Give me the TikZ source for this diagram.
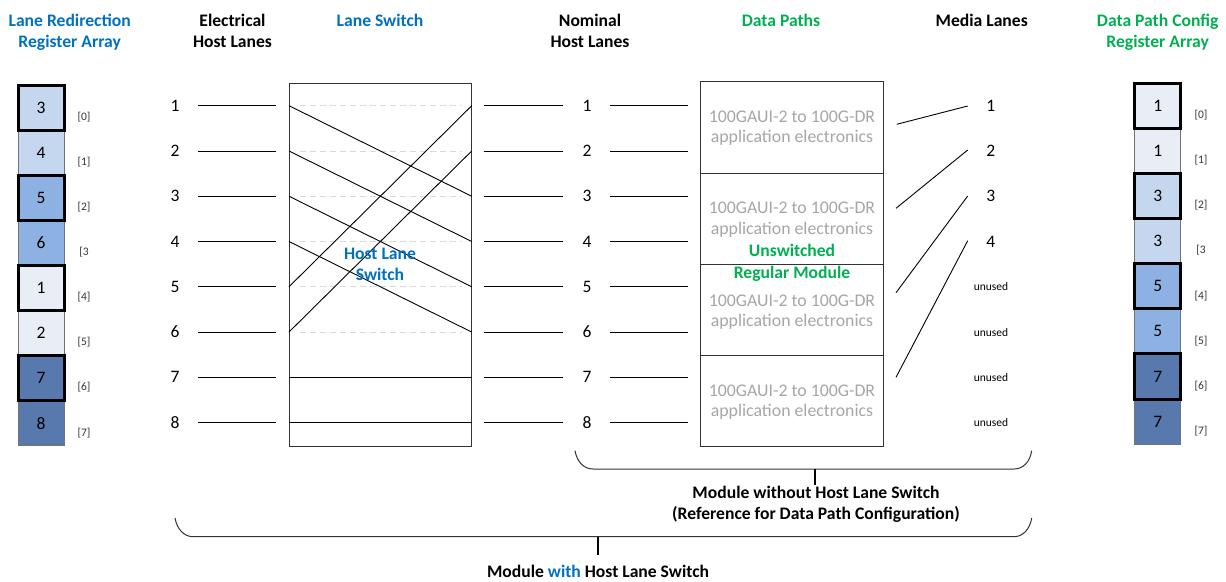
\documentclass[tikz,border=0pt]{standalone}
\usepackage{fontspec}
\setmainfont{Carlito}
\definecolor{vl}{HTML}{E9EEF6}
\definecolor{lb}{HTML}{C5D7EF}
\definecolor{mb}{HTML}{8DB1E2}
\definecolor{db}{HTML}{5779AD}
\definecolor{tblue}{HTML}{0070C0}
\definecolor{tgreen}{HTML}{00B050}
\definecolor{tgrey}{HTML}{A6A6A6}
\definecolor{dashgrey}{HTML}{D9D9D9}
\begin{document}
\begin{tikzpicture}[x=1pt,y=-1pt,
  hdr/.style={font=\fontsize{17.6}{21}\selectfont\bfseries, inner sep=0, anchor=base},
  num/.style={font=\fontsize{17.5}{20}\selectfont, inner sep=0},
  idx/.style={font=\fontsize{11.5}{13}\selectfont, text=black!80, inner sep=0},
  unusedlbl/.style={font=\fontsize{11.5}{13}\selectfont, inner sep=0},
  lane/.style={draw=black, line width=0.9pt},
  dashlane/.style={draw=dashgrey, line width=0.9pt, dash pattern=on 6pt off 4pt},
  box/.style={draw=black!80, line width=1pt, inner sep=0},
  cell/.style={draw=black!55, line width=0.8pt, minimum width=46pt, minimum height=45.1pt, inner sep=0, font=\fontsize{17.5}{20}\selectfont},
  tcell/.style={cell, draw=black, line width=3pt},
  dptxt/.style={font=\fontsize{17.8}{21}\selectfont, text=tgrey, inner sep=0, anchor=base},
  grn/.style={font=\fontsize{17.6}{21}\selectfont\bfseries, text=tgreen, inner sep=0, anchor=base},
  blu/.style={font=\fontsize{17.6}{21}\selectfont\bfseries, text=tblue, inner sep=0, anchor=base},
  brace/.style={draw=black!80, line width=1pt},
  tick/.style={draw=black, line width=1.6pt},
  btxt/.style={font=\fontsize{17.6}{21}\selectfont\bfseries, inner sep=0, anchor=base},
]
\useasboundingbox (0,0) rectangle (1226,581);

% ---------- headers ----------
\node[hdr, text=tblue] (hA1) at (69.7,26) {Lane Redirection};
\node[hdr, text=tblue] (hA2) at (69.7,47) {Register Array};
\node[hdr] (hB1) at (232.5,26) {Electrical};
\node[hdr] (hB2) at (232.5,47) {Host Lanes};
\node[hdr, text=tblue] (hC) at (380,26) {Lane Switch};
\node[hdr] (hD1) at (590,26) {Nominal};
\node[hdr] (hD2) at (590,47) {Host Lanes};
\node[hdr, text=tgreen] (hE) at (781,26) {Data Paths};
\node[hdr] (hF) at (981.7,26) {Media Lanes};
\node[hdr, text=tgreen] (hG1) at (1157.7,26) {Data Path Config};
\node[hdr, text=tgreen] (hG2) at (1157.7,47) {Register Array};

% ---------- left register array ----------
\foreach \v/\c [count=\i from 0] in {4/lb,6/mb,2/vl,8/db}{
  \pgfmathsetmacro{\cy}{85+45.1*(2*\i+1)+22.55}
  \node[cell, fill=\c] (L\i b) at (41,\cy) {\v};
}
\foreach \v/\c [count=\i from 0] in {3/lb,5/mb,1/vl,7/db}{
  \pgfmathsetmacro{\cy}{85+45.1*(2*\i)+22.55}
  \node[tcell, fill=\c] (L\i a) at (41,\cy) {\v};
}
\foreach \t [count=\i from 0] in {{[0]},{[1]},{[2]},{[3},{[4]},{[5]},{[6]},{[7]}}{
  \pgfmathsetmacro{\cy}{85+45.1*\i+32}
  \node[idx] (Li\i) at (84,\cy) {\t};
}

% ---------- right register array ----------
\foreach \v/\c [count=\i from 0] in {1/vl,3/lb,5/mb,7/db}{
  \pgfmathsetmacro{\cy}{83.3+45.1*(2*\i+1)+22.55}
  \node[cell, fill=\c] (R\i b) at (1157.7,\cy) {\v};
}
\foreach \v/\c [count=\i from 0] in {1/vl,3/lb,5/mb,7/db}{
  \pgfmathsetmacro{\cy}{83.3+45.1*(2*\i)+22.55}
  \node[tcell, fill=\c] (R\i a) at (1157.7,\cy) {\v};
}
\foreach \t [count=\i from 0] in {{[0]},{[1]},{[2]},{[3},{[4]},{[5]},{[6]},{[7]}}{
  \pgfmathsetmacro{\cy}{83.3+45.1*\i+32}
  \node[idx] (Ri\i) at (1201,\cy) {\t};
}

% ---------- electrical / nominal host lanes ----------
\node[box, minimum width=182.7pt, minimum height=362.7pt] (sw) at (380.35,264.65) {};
\foreach \i in {1,...,8}{
  \pgfmathsetmacro{\ry}{105.7+45.27*(\i-1)}
  \node[num] (e\i) at (175,\ry) {\i};
  \coordinate (eA\i) at (198,\ry);
  \coordinate (eB\i) at (276,\ry);
  \coordinate (sL\i) at (289,\ry);
  \coordinate (sR\i) at (471.7,\ry);
  \coordinate (dL\i) at (300,\ry);
  \coordinate (dR\i) at (462,\ry);
  \coordinate (nA\i) at (483.7,\ry);
  \coordinate (nB\i) at (563,\ry);
  \node[num] (n\i) at (587,\ry) {\i};
  \coordinate (nC\i) at (610,\ry);
  \coordinate (nD\i) at (688,\ry);
  \draw[lane] (eA\i) -- (eB\i);
  \draw[lane] (nA\i) -- (nB\i);
  \draw[lane] (nC\i) -- (nD\i);
}
\foreach \i in {1,...,6}{ \draw[dashlane] (dL\i) -- (dR\i); }
\draw[lane] (sL1) -- (sR3);
\draw[lane] (sL2) -- (sR4);
\draw[lane] (sL3) -- (sR5);
\draw[lane] (sL4) -- (sR6);
\draw[lane] (sL5) -- (sR1);
\draw[lane] (sL6) -- (sR2);
\draw[lane] (sL7) -- (sR7);
\draw[lane] (sL8) -- (sR8);
\node[blu] (hls1) at (380,259.3) {Host Lane};
\node[blu] (hls2) at (380,280.7) {Switch};

% ---------- data paths ----------
\node[box, minimum width=182.6pt, minimum height=91.6pt] (dp1) at (792,127.5) {};
\node[box, minimum width=182.6pt, minimum height=90.7pt] (dp2) at (792,218.65) {};
\node[box, minimum width=182.6pt, minimum height=91pt] (dp3) at (792,309.5) {};
\node[box, minimum width=182.6pt, minimum height=91pt] (dp4) at (792,400.5) {};
\node[dptxt] (t1a) at (792,122.7) {100GAUI-2 to 100G-DR};
\node[dptxt] (t1b) at (792,142.7) {application electronics};
\node[dptxt] (t2a) at (792,213.3) {100GAUI-2 to 100G-DR};
\node[dptxt] (t2b) at (792,234.3) {application electronics};
\node[grn] (u1) at (792,256.7) {Unswitched};
\node[grn] (u2) at (792,278.3) {Regular Module};
\node[dptxt] (t3a) at (792,306) {100GAUI-2 to 100G-DR};
\node[dptxt] (t3b) at (792,326) {application electronics};
\node[dptxt] (t4a) at (792,396) {100GAUI-2 to 100G-DR};
\node[dptxt] (t4b) at (792,416.7) {application electronics};

% ---------- media lanes ----------
\foreach \i in {1,...,4}{
  \pgfmathsetmacro{\ry}{105.7+45.27*(\i-1)}
  \node[num] (m\i) at (990.7,\ry) {\i};
}
\foreach \i in {5,...,8}{
  \pgfmathsetmacro{\ry}{105.7+45.27*(\i-1)}
  \node[unusedlbl] (mu\i) at (991,\ry) {unused};
}
\coordinate (mA1) at (896.7,124.3); \coordinate (mB1) at (967.7,106);
\coordinate (mA2) at (896,208.3);   \coordinate (mB2) at (967.7,150);
\coordinate (mA3) at (896,292.7);   \coordinate (mB3) at (967.7,196);
\coordinate (mA4) at (896,377.3);   \coordinate (mB4) at (967.7,240.7);
\foreach \i in {1,...,4}{ \draw[lane] (mA\i) -- (mB\i); }

% ---------- braces ----------
\coordinate (b1L) at (575,450.7);
\coordinate (b1R) at (1031.7,450.7);
\coordinate (b1M) at (815,469);
\coordinate (b1T) at (815,485);
\draw[brace] (b1L) .. controls (577,462) and (584,469) .. (593,469) -- (1014,469) .. controls (1023,469) and (1030,462) .. (b1R);
\draw[tick] (b1M) -- (b1T);
\node[btxt] (bt1) at (816,498.3) {Module without Host Lane Switch};
\node[btxt] (bt2) at (816,519.3) {(Reference for Data Path Configuration)};

\coordinate (b2L) at (175,518);
\coordinate (b2R) at (1031.7,518);
\coordinate (b2M) at (597.7,536.7);
\coordinate (b2T) at (597.7,555);
\draw[brace] (b2L) .. controls (177,529) and (184,536.7) .. (193,536.7) -- (1014,536.7) .. controls (1023,536.7) and (1030,529) .. (b2R);
\draw[tick] (b2M) -- (b2T);
\node[btxt] (bt3) at (598,577) {Module \textcolor{tblue}{with} Host Lane Switch};
\end{tikzpicture}
\end{document}
